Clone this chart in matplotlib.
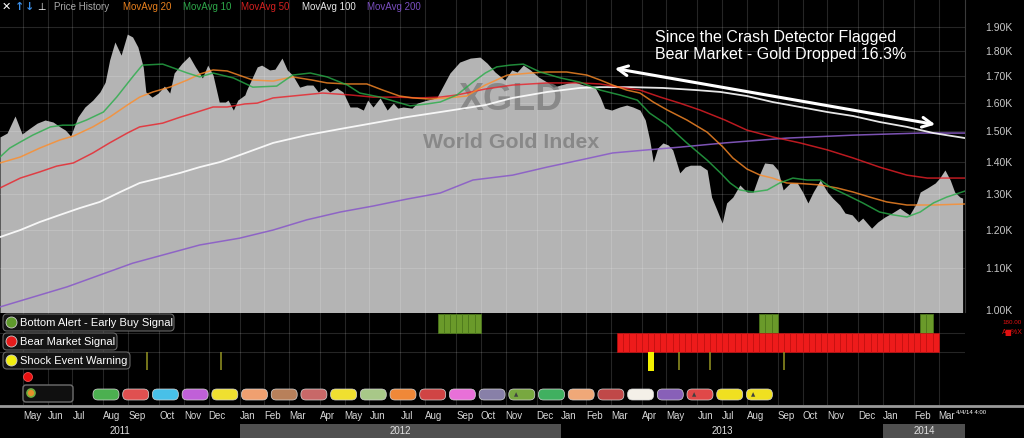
import matplotlib
matplotlib.use('Agg')
import matplotlib.pyplot as plt
import matplotlib.transforms as mtransforms
from matplotlib.patches import FancyBboxPatch, Circle
from matplotlib.lines import Line2D
from matplotlib.ticker import NullLocator, NullFormatter
import pandas as pd

plt.rcParams['font.family'] = ['Liberation Sans', 'DejaVu Sans']

W, H = 1024, 438
BASE = pd.Timestamp('2011-05-06')   # first weekly bar of May 2011
X_START, X_END = -26.0, 1065.7      # visible range, days after BASE

# World Gold Index (days after BASE, index level)
price_days = [-26, -18, -9, -1, 8, 16, 25, 34, 42, 48, 54, 62, 70, 79, 87, 93, 98, 104, 111, 118,
              124, 130, 136, 139, 146, 153, 160, 166, 171, 180, 188, 195, 203, 209, 215, 222, 229, 232, 238, 243,
              251, 253, 265, 270, 279, 285, 293, 299, 305, 313, 321, 328, 334, 342, 347, 355, 362, 370, 378, 385,
              390, 396, 404, 412, 419, 424, 430, 440, 446, 457, 468, 474, 483, 494, 506, 517, 525, 534, 545, 553,
              559, 566, 574, 583, 593, 600, 608, 617, 624, 634, 647, 653, 658, 666, 675, 683, 690, 698, 704, 709,
              713, 718, 724, 730, 735, 743, 749, 755, 766, 774, 779, 785, 791, 796, 803, 811, 819, 826, 832, 839,
              848, 854, 860, 868, 876, 882, 888, 894, 902, 910, 916, 924, 930, 938, 945, 950, 960, 967, 975, 983,
              992, 998, 1003, 1011, 1015, 1023, 1032, 1037, 1043, 1049, 1054, 1060, 1063]
price = [1481, 1494, 1553, 1491, 1511, 1528, 1539, 1532, 1515, 1504, 1484, 1549, 1585, 1610, 1640, 1677, 1763, 1837, 1783, 1870,
         1858, 1816, 1736, 1640, 1621, 1636, 1662, 1636, 1712, 1751, 1779, 1736, 1693, 1743, 1704, 1603, 1603, 1610, 1574, 1610,
         1629, 1647, 1736, 1743, 1724, 1727, 1771, 1724, 1704, 1658, 1666, 1666, 1640, 1655, 1640, 1655, 1640, 1585, 1585, 1574,
         1610, 1585, 1618, 1574, 1599, 1581, 1585, 1581, 1599, 1610, 1618, 1655, 1712, 1755, 1771, 1775, 1751, 1716, 1685, 1724,
         1716, 1743, 1724, 1697, 1677, 1658, 1666, 1674, 1677, 1666, 1658, 1621, 1581, 1574, 1585, 1592, 1585, 1574, 1539, 1471,
         1399, 1444, 1461, 1454, 1438, 1365, 1383, 1389, 1389, 1374, 1292, 1255, 1218, 1275, 1292, 1328, 1307, 1307, 1352, 1396,
         1393, 1374, 1313, 1334, 1334, 1307, 1275, 1307, 1343, 1307, 1289, 1269, 1246, 1241, 1221, 1232, 1204, 1221, 1235, 1246,
         1260, 1249, 1241, 1275, 1307, 1319, 1334, 1349, 1374, 1343, 1307, 1292, 1289]

# moving averages
ma10_days = [-26, -15, -3, 11, 31, 45, 57, 72, 91, 106, 124, 135, 158, 170, 186, 200, 215, 238, 260, 287,
             305, 325, 344, 367, 381, 404, 423, 438, 457, 472, 491, 509, 523, 536, 551, 566, 585, 608, 630, 653,
             675, 695, 709, 729, 751, 774, 789, 800, 811, 826, 842, 856, 871, 887, 902, 913, 932, 950, 969, 984,
             1000, 1015, 1030, 1045, 1066]
ma10 = [1415, 1444, 1464, 1487, 1515, 1521, 1521, 1539, 1567, 1621, 1697, 1743, 1747, 1732, 1712, 1697, 1712, 1693, 1658, 1662,
        1704, 1712, 1697, 1666, 1636, 1621, 1603, 1589, 1596, 1603, 1629, 1677, 1712, 1736, 1743, 1747, 1716, 1693, 1677, 1647,
        1629, 1610, 1563, 1521, 1461, 1405, 1365, 1334, 1313, 1307, 1313, 1334, 1349, 1343, 1343, 1322, 1298, 1275, 1249, 1241,
        1235, 1249, 1275, 1292, 1310]

ma20_days = [-26, -3, 19, 42, 57, 79, 98, 118, 132, 147, 166, 186, 200, 215, 231, 260, 283, 305, 327, 344,
             367, 389, 407, 426, 441, 460, 480, 502, 523, 548, 574, 593, 615, 638, 653, 667, 683, 698, 713, 729,
             751, 774, 792, 803, 819, 834, 848, 864, 882, 902, 921, 939, 958, 977, 1000, 1015, 1030, 1066]
ma20 = [1396, 1415, 1444, 1471, 1484, 1515, 1549, 1592, 1621, 1640, 1658, 1685, 1708, 1724, 1720, 1685, 1681, 1697, 1685, 1674,
        1670, 1670, 1647, 1625, 1618, 1614, 1618, 1625, 1666, 1704, 1712, 1716, 1716, 1704, 1685, 1666, 1647, 1636, 1603, 1574,
        1539, 1497, 1447, 1412, 1377, 1358, 1349, 1334, 1332, 1328, 1319, 1307, 1292, 1278, 1269, 1269, 1269, 1272]

ma50_days = [-26, -3, 19, 38, 57, 79, 98, 118, 132, 158, 178, 197, 215, 231, 251, 265, 283, 305, 339, 370,
             396, 423, 449, 472, 491, 523, 554, 593, 630, 653, 675, 698, 721, 743, 766, 794, 819, 848, 879, 910,
             939, 969, 1000, 1023, 1045, 1066]
ma50 = [1319, 1349, 1368, 1386, 1396, 1428, 1461, 1494, 1515, 1528, 1549, 1567, 1585, 1585, 1596, 1599, 1618, 1625, 1636, 1629,
        1621, 1621, 1618, 1621, 1629, 1651, 1666, 1674, 1674, 1670, 1658, 1647, 1621, 1599, 1574, 1539, 1504, 1481, 1461, 1438,
        1412, 1383, 1358, 1349, 1349, 1349]

ma100_days = [-26, -3, 19, 42, 64, 87, 110, 132, 155, 178, 200, 223, 245, 283, 321, 359, 396, 434, 472, 509,
              523, 554, 593, 630, 653, 687, 724, 762, 789, 819, 848, 879, 910, 939, 969, 1000, 1030, 1066]
ma100 = [1180, 1199, 1221, 1241, 1260, 1278, 1307, 1334, 1349, 1365, 1383, 1399, 1421, 1461, 1487, 1508, 1528, 1549, 1567, 1585,
         1592, 1618, 1640, 1655, 1658, 1658, 1655, 1647, 1640, 1625, 1603, 1585, 1567, 1553, 1532, 1515, 1494, 1477]

ma200_days = [-26, 50, 124, 200, 245, 283, 321, 359, 396, 434, 472, 509, 554, 593, 630, 667, 706, 743, 794, 864,
              939, 1015, 1066]
ma200 = [1007, 1054, 1112, 1159, 1177, 1199, 1227, 1249, 1266, 1286, 1304, 1343, 1358, 1383, 1405, 1428, 1438, 1447, 1461, 1477,
         1487, 1494, 1494]

# weekly signal bars: (first Friday, number of weeks)
buy_signals = [('2012-08-17', 7), ('2013-08-16', 3), ('2014-02-14', 2)]
bear_signals = [('2013-03-08', 52)]
shock_strong = ['2013-04-12']
shock_weak = ['2011-09-23', '2011-12-16', '2013-05-17', '2013-06-21', '2013-09-13']

price_ticks = [1000, 1100, 1200, 1300, 1400, 1500, 1600, 1700, 1800, 1900]

pill_colors = ['#4cb050', '#e05050', '#48c0e8', '#c060d8', '#f0e030', '#f0a070', '#b8805a', '#c86868',
               '#f0e030', '#a8c888', '#f08838', '#d04444', '#e870d8', '#8880a8', '#78a840', '#40b060',
               '#f0a878', '#c04848', '#f4f0e8', '#8860b8', '#e04848', '#f0e020', '#f0e020']
pill_icons = [14, 20, 22]


def day(s):
    return (pd.Timestamp(s) - BASE).days


fridays = pd.date_range('2011-04-01', '2014-04-04', freq='W-FRI')
first_fri = fridays.to_series().groupby([fridays.year, fridays.month]).first()
months = [(day(f), f.strftime('%b')) for f in first_fri if X_START < day(f) < X_END - 10]
month_days = [m[0] for m in months]

fig = plt.figure(figsize=(W / 100, H / 100), dpi=100, facecolor='black')
# pixel coordinates measured from the top-left corner
pix = mtransforms.Affine2D().scale(0.01, -0.01).translate(0, H / 100) + fig.dpi_scale_trans

# ---- price panel
ax = fig.add_axes([0, 1 - 312 / H, 965 / W, 312 / H], facecolor='black')
ax.set_yscale('log')
ax.set_xlim(X_START, X_END)
ax.set_ylim(995.5, 2020.5)
ax.fill_between(price_days, price, 900, color='#b4b4b4', lw=0, zorder=1)
for d in month_days:
    ax.axvline(d, color='white', alpha=0.15, lw=0.8, zorder=2)
for p in price_ticks[1:]:
    ax.axhline(p, color='white', alpha=0.15, lw=0.8, zorder=2)

ax.plot(ma200_days, ma200, color='#8a5cc8', lw=1.1, alpha=0.9, zorder=3)
ax.plot(ma100_days, ma100, color='#ffffff', lw=1.3, alpha=0.9, zorder=3)
ax.plot(ma50_days, ma50, color='#ea2028', lw=1.1, alpha=0.8, zorder=3)
ax.plot(ma20_days, ma20, color='#ff8c28', lw=1.1, alpha=0.8, zorder=3)
ax.plot(ma10_days, ma10, color='#28ad48', lw=1.1, alpha=0.8, zorder=3)

ax.text(511, 110, 'XGLD', transform=pix, ha='center', va='baseline', fontsize=27,
        fontweight='bold', color='#7a7a7a', alpha=0.75, zorder=2.5)
ax.text(511, 148, 'World Gold Index', transform=pix, ha='center', va='baseline', fontsize=15.3,
        fontweight='bold', color='#7a7a7a', alpha=0.75, zorder=2.5)

ax.yaxis.tick_right()
ax.set_yticks(price_ticks)
ax.set_yticklabels([f'{p / 1000:.2f}K' for p in price_ticks])
ax.yaxis.set_minor_locator(NullLocator())
ax.yaxis.set_minor_formatter(NullFormatter())
ax.tick_params(axis='y', length=0, pad=14.5, labelsize=7.5, labelcolor='#c8c8c8')
ax.set_xticks([])
for name, sp in ax.spines.items():
    sp.set_visible(name == 'right')
ax.spines['right'].set_color('#3a3a3a')

ax.annotate('', xy=(612, 68), xytext=(938, 125), xycoords=pix, textcoords=pix,
            arrowprops=dict(arrowstyle='<->,head_length=0.7,head_width=0.35', color='white', lw=2.2))
fig.text(655, 42, 'Since the Crash Detector Flagged', transform=pix, va='baseline',
         color='white', fontsize=11.5)
fig.text(655, 59, 'Bear Market - Gold Dropped 16.3%', transform=pix, va='baseline',
         color='white', fontsize=11.5)

# legend row on top
fig.text(2, 7, '✕', transform=pix, va='center', color='white', fontsize=8, fontweight='bold',
         family=['DejaVu Sans'])
fig.text(15, 7, '↑', transform=pix, va='center', color='#3a8ee8', fontsize=8, fontweight='bold',
         family=['DejaVu Sans'])
fig.text(25, 7, '↓', transform=pix, va='center', color='#3a8ee8', fontsize=8, fontweight='bold',
         family=['DejaVu Sans'])
fig.text(37, 7, '⊥', transform=pix, va='center', color='white', fontsize=7, family=['DejaVu Sans'])
top_legend = [(54, 'Price History', '#a8a8a8'), (123, 'MovAvg 20', '#e8801e'),
              (183, 'MovAvg 10', '#2ea84a'), (241, 'MovAvg 50', '#d42020'),
              (302, 'MovAvg 100', '#e8e8e8'), (367, 'MovAvg 200', '#7a4ec0')]
for x, s, c in top_legend:
    fig.text(x, 7, s, transform=pix, va='center', color=c, fontsize=7)

# ---- signal panel
ax_sig = fig.add_axes([0, 1 - 405 / H, 965 / W, 93 / H], facecolor='black')
ax_sig.set_xlim(X_START, X_END)
ax_sig.set_ylim(405, 312)
ax_sig.axis('off')
for d in month_days:
    ax_sig.axvline(d, color='white', alpha=0.15, lw=0.8, zorder=1)
for yy in [333, 352]:
    ax_sig.axhline(yy, color='white', alpha=0.15, lw=0.8, zorder=1)

for start, n in buy_signals:
    ax_sig.bar([day(start) + 7 * k for k in range(n)], 19, width=7, bottom=314, align='edge',
               color='#6a9a2a', edgecolor='#4d7a1c', lw=0.5, zorder=2)
for start, n in bear_signals:
    ax_sig.bar([day(start) + 7 * k for k in range(n)], 19, width=7, bottom=333, align='edge',
               color='#ee1b1b', edgecolor='#c81010', lw=0.4, zorder=2)
ax_sig.bar([day(s) for s in shock_strong], 19, width=7, bottom=352, align='edge',
           color='#f2f000', lw=0, zorder=2)
ax_sig.vlines([day(s) for s in shock_weak], 352, 370, color='#8a8a20', lw=1.2, zorder=2)

sig_legend = [('Bottom Alert - Early Buy Signal', '#5f9a2c', 314, 171),
              ('Bear Market Signal', '#e61c1c', 333, 114),
              ('Shock Event Warning', '#f2ee10', 352, 127)]
for s, c, y0, w in sig_legend:
    fig.add_artist(FancyBboxPatch((3, y0), w, 17, boxstyle='round,pad=0,rounding_size=4',
                                  transform=pix, fc='#141414', ec='#666666', lw=0.8))
    fig.add_artist(Circle((11.5, y0 + 8.5), 5.5, transform=pix, fc=c, ec='#cfcfcf', lw=0.6))
    fig.text(20, y0 + 9, s, transform=pix, va='center', color='white', fontsize=8)

fig.add_artist(Circle((28, 377), 4.5, transform=pix, fc='#e81010', ec='#ff6060', lw=0.5))
fig.add_artist(FancyBboxPatch((23, 385), 50, 17, boxstyle='round,pad=0,rounding_size=3',
                              transform=pix, fc='#101010', ec='#707070', lw=1))
fig.add_artist(Circle((31, 393), 4, transform=pix, fc='#e8902a', ec='#70b040', lw=1.2))
for i, c in enumerate(pill_colors):
    x = 93 + 29.7 * i
    fig.add_artist(FancyBboxPatch((x, 389), 26, 11, boxstyle='round,pad=0,rounding_size=5',
                                  transform=pix, fc=c, ec='#d8d8d8', lw=0.5))
    if i in pill_icons:
        fig.text(x + 5, 395, '▲', transform=pix, va='center', color='#404040', fontsize=4,
                 family=['DejaVu Sans'])

fig.text(1002, 323, '180.00', transform=pix, va='center', color='#e01010', fontsize=4.5)
fig.text(1002, 333, 'A▇%X', transform=pix, va='center', color='#e01010', fontsize=5,
         family=['Liberation Sans', 'DejaVu Sans'])

# ---- time axis
fig.add_artist(Line2D([0, W], [405.5, 405.5], transform=pix, color='#9a9a9a', lw=2))
ax_t = fig.add_axes([0, 0, 965 / W, 32 / H], facecolor='black')
ax_t.set_xlim(X_START, X_END)
ax_t.set_ylim(0, 1)
ax_t.axis('off')
year_starts = [X_START, day('2012-01-06'), day('2013-01-04'), day('2014-01-03'), X_END]
year_names = ['2011', '2012', '2013', '2014']
for k, yname in enumerate(year_names):
    a, b = year_starts[k], year_starts[k + 1]
    if k % 2 == 1:
        ax_t.axvspan(a, b, ymin=0, ymax=14 / 32, color='#505050', lw=0)
    ax_t.text((a + b) / 2, 7 / 32, yname, ha='center', va='center', color='#e0e0e0', fontsize=7)
for d, m in months:
    ax_t.text(d, 22 / 32, m, ha='left', va='center', color='#d8d8d8', fontsize=7)
fig.text(956, 413, '4/4/14 4:00', transform=pix, va='center', color='white', fontsize=4.3)

fig.savefig('out.png', dpi=100, facecolor='black')
